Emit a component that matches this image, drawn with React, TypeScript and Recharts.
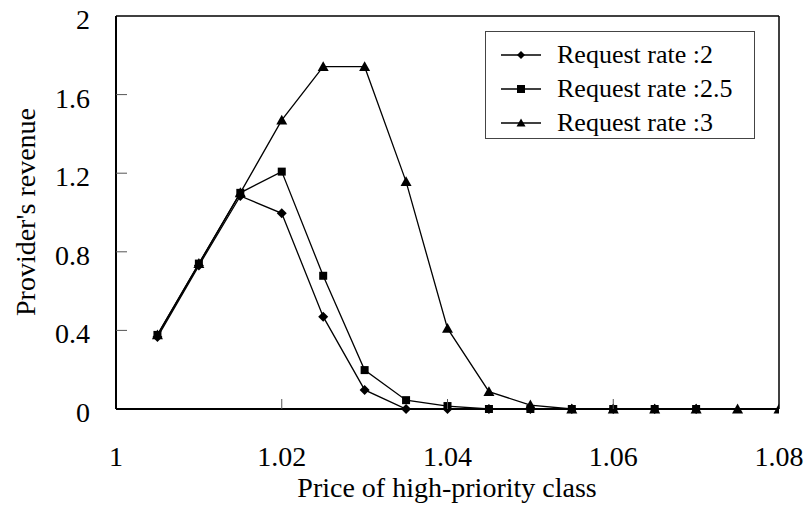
import React from 'react';
import { LineChart, Line, XAxis, YAxis, ReferenceLine, Legend } from 'recharts';

const prices = [1.005, 1.01, 1.015, 1.02, 1.025, 1.03, 1.035, 1.04, 1.045, 1.05, 1.055, 1.06, 1.065, 1.07, 1.075, 1.08];
const rate2 = [0.366, 0.73, 1.084, 0.996, 0.47, 0.097, 0, 0, 0, 0, 0, 0, 0, 0, null, null];
const rate25 = [0.377, 0.74, 1.1, 1.208, 0.678, 0.198, 0.045, 0.015, 0, 0, 0, 0, 0, 0, null, null];
const rate3 = [0.377, 0.74, 1.1, 1.47, 1.742, 1.742, 1.157, 0.41, 0.088, 0.02, 0, 0, 0, 0, 0, 0];

const xTicks = [1, 1.02, 1.04, 1.06, 1.08];
const yTicks = [0, 0.4, 0.8, 1.2, 1.6, 2];

const seriesNames = ['Request rate :2', 'Request rate :2.5', 'Request rate :3'];

const data = prices.map((p, i) => ({ price: p, r2: rate2[i], r25: rate25[i], r3: rate3[i] }));

const FONT = 'Liberation Serif, serif';

type Shape = 'diamond' | 'square' | 'triangle';

function Marker({ cx, cy, shape, size }: { cx: number; cy: number; shape: Shape; size: number }) {
  if (shape === 'diamond') {
    return <path d={`M${cx},${cy - size} L${cx + size},${cy} L${cx},${cy + size} L${cx - size},${cy} Z`} fill="#000" />;
  }
  if (shape === 'square') {
    return <rect x={cx - size} y={cy - size} width={size * 2} height={size * 2} fill="#000" />;
  }
  return <path d={`M${cx},${cy - size} L${cx + size},${cy + size * 0.8} L${cx - size},${cy + size * 0.8} Z`} fill="#000" />;
}

const makeDot = (shape: Shape, size: number) => (props: any) => {
  const { cx, cy, index, value } = props;
  if (cx == null || cy == null || value == null) return <g key={`e-${index}`} />;
  return <Marker key={`d-${index}`} cx={cx} cy={cy} shape={shape} size={size} />;
};

// y ticks point inward from the left axis
const YTick = (props: any) => {
  const { x, y, payload } = props;
  const v = payload.value;
  const axisX = x + 26;
  return (
    <g>
      {v > 0 && v < 2 && <line x1={axisX} x2={axisX + 11} y1={y} y2={y} stroke="#555" strokeWidth={1} />}
      <text x={x} y={y + 13} textAnchor="end" fontFamily={FONT} fontSize={28} fill="#000">
        {v}
      </text>
    </g>
  );
};

const XTick = (props: any) => {
  const { x, y, payload } = props;
  const v = payload.value;
  return (
    <g>
      {v > 1 && v < 1.08 && <line x1={x} x2={x} y1={y} y2={y - 10} stroke="#555" strokeWidth={1} />}
      <text x={x} y={y + 57} textAnchor="middle" fontFamily={FONT} fontSize={28} fill="#000">
        {v}
      </text>
    </g>
  );
};

const shapes: Shape[] = ['diamond', 'square', 'triangle'];

const LegendBox = () => (
  <div
    style={{
      width: 270,
      height: 108,
      boxSizing: 'border-box',
      border: '1px solid #444',
      background: '#fff',
      paddingTop: 6,
      fontFamily: FONT,
      fontSize: 26,
      color: '#000',
    }}
  >
    {seriesNames.map((name, i) => (
      <div key={name} style={{ display: 'flex', alignItems: 'center', height: 34 }}>
        <svg width={71} height={20} style={{ flex: 'none' }}>
          <line x1={15} x2={55} y1={10} y2={10} stroke="#000" strokeWidth={1.3} />
          <Marker cx={35} cy={10} shape={shapes[i]} size={i === 2 ? 4.5 : 4} />
        </svg>
        <span style={{ whiteSpace: 'nowrap', lineHeight: '34px' }}>{name}</span>
      </div>
    ))}
  </div>
);

export default function App() {
  return (
    <div style={{ position: 'absolute', left: 0, top: 0, width: 808, height: 506, background: '#fff' }}>
      <LineChart width={808} height={506} data={data} margin={{ top: 16, right: 29, bottom: 0, left: 0 }}>
        <XAxis
          dataKey="price"
          type="number"
          domain={[1, 1.08]}
          ticks={xTicks}
          interval={0}
          height={97}
          tickSize={0}
          tickMargin={0}
          tick={<XTick />}
          axisLine={{ stroke: '#000', strokeWidth: 2 }}
          allowDataOverflow
        />
        <YAxis
          type="number"
          domain={[0, 2]}
          ticks={yTicks}
          interval={0}
          width={116}
          tickSize={0}
          tickMargin={26}
          tick={<YTick />}
          axisLine={{ stroke: '#000', strokeWidth: 2 }}
        />
        <ReferenceLine y={2} stroke="#000" strokeWidth={1.5} />
        <ReferenceLine x={1.08} stroke="#000" strokeWidth={1.5} />
        <Legend
          layout="horizontal"
          verticalAlign="middle"
          align="center"
          content={<LegendBox />}
          wrapperStyle={{ position: 'absolute', left: 485, top: 31, width: 270, height: 108 }}
        />
        <Line dataKey="r2" name={seriesNames[0]} stroke="#000" strokeWidth={1.3} dot={makeDot('diamond', 5)} isAnimationActive={false} />
        <Line dataKey="r25" name={seriesNames[1]} stroke="#000" strokeWidth={1.3} dot={makeDot('square', 4)} isAnimationActive={false} />
        <Line dataKey="r3" name={seriesNames[2]} stroke="#000" strokeWidth={1.3} dot={makeDot('triangle', 5.5)} isAnimationActive={false} />
      </LineChart>
      <svg width={808} height={506} style={{ position: 'absolute', left: 0, top: 0, pointerEvents: 'none' }}>
        <text x={447} y={497} textAnchor="middle" fontFamily={FONT} fontSize={28} fill="#000">
          Price of high-priority class
        </text>
        <text x={35} y={212} textAnchor="middle" fontFamily={FONT} fontSize={28} fill="#000" transform="rotate(-90 35 212)">
          Provider's revenue
        </text>
      </svg>
    </div>
  );
}
